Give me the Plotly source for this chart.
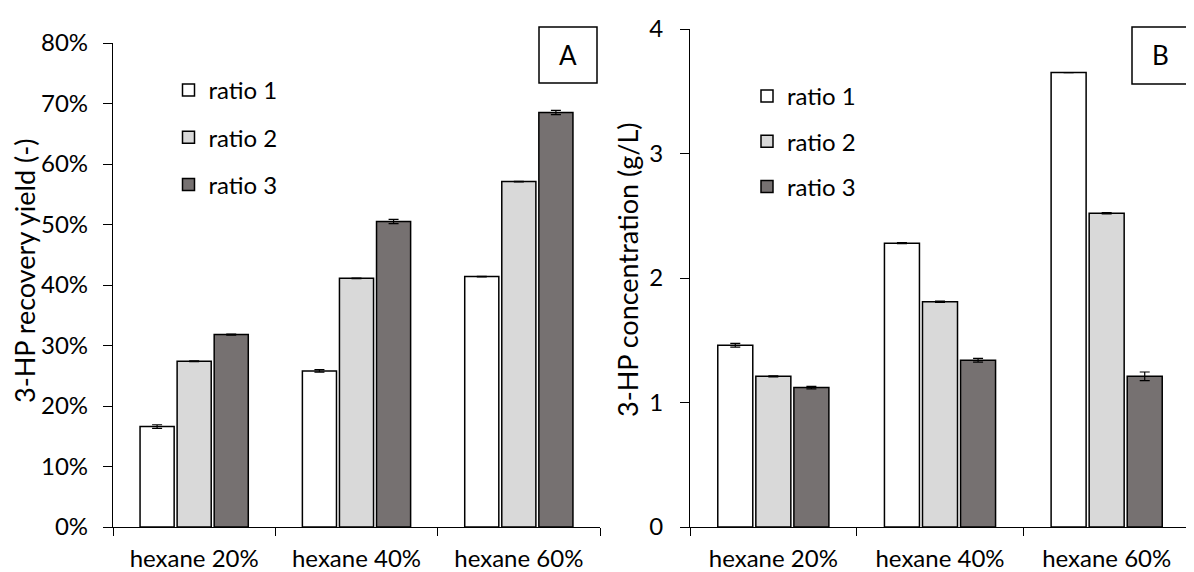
import plotly.graph_objects as go

categories = ["hexane 20%", "hexane 40%", "hexane 60%"]
series_names = ["ratio 1", "ratio 2", "ratio 3"]
series_colors = ["#FFFFFF", "#D9D9D9", "#767171"]

# Panel A: 3-HP recovery yield (%)
yield_r1 = [16.6, 25.8, 41.4]
yield_r2 = [27.4, 41.1, 57.1]
yield_r3 = [31.8, 50.5, 68.5]
yield_err_r1 = [0.3, 0.2, 0.05]
yield_err_r2 = [0.05, 0.05, 0.05]
yield_err_r3 = [0.1, 0.35, 0.35]

# Panel B: 3-HP concentration (g/L)
conc_r1 = [1.46, 2.28, 3.65]
conc_r2 = [1.21, 1.81, 2.52]
conc_r3 = [1.12, 1.34, 1.21]
conc_err_r1 = [0.015, 0.005, 0.0]
conc_err_r2 = [0.005, 0.005, 0.005]
conc_err_r3 = [0.01, 0.015, 0.035]

FONT = "Lato"
FS = 24
W, H = 1194, 572
OFF = 8  # page body margin

fig = go.Figure()

A_vals = [yield_r1, yield_r2, yield_r3]
A_errs = [yield_err_r1, yield_err_r2, yield_err_r3]
B_vals = [conc_r1, conc_r2, conc_r3]
B_errs = [conc_err_r1, conc_err_r2, conc_err_r3]

for i, name in enumerate(series_names):
    fig.add_trace(go.Bar(
        x=categories, y=A_vals[i], name=name,
        marker=dict(color=series_colors[i], line=dict(color="black", width=1.5)),
        error_y=dict(type="data", array=A_errs[i], color="black", thickness=1.2, width=5),
        xaxis="x", yaxis="y", legend="legend", legendgroup="a%d" % i,
    ))
for i, name in enumerate(series_names):
    fig.add_trace(go.Bar(
        x=categories, y=B_vals[i], name=name,
        marker=dict(color=series_colors[i], line=dict(color="black", width=1.5)),
        error_y=dict(type="data", array=B_errs[i], color="black", thickness=1.2, width=5),
        xaxis="x2", yaxis="y2", legend="legend2", legendgroup="b%d" % i,
    ))

def px_x(p):
    return (p - OFF) / W

def px_y(p):
    return 1 - (p - OFF) / H

xaxis_common = dict(
    type="category", showline=True, linecolor="black", linewidth=1.2,
    ticks="outside", tickson="boundaries", ticklen=8, tickcolor="black", tickwidth=1.2,
    showgrid=False, zeroline=False, tickfont=dict(family=FONT, size=FS, color="black"),
    ticklabelstandoff=10, fixedrange=True, automargin=False,
)
yaxis_common = dict(
    showline=True, linecolor="black", linewidth=1.2,
    ticks="outside", ticklen=9, tickcolor="black", tickwidth=1.2,
    showgrid=False, zeroline=False, tickfont=dict(family=FONT, size=FS, color="black"),
    fixedrange=True, automargin=False,
)

fig.update_layout(
    width=W, height=H,
    margin=dict(l=0, r=0, t=0, b=0, autoexpand=False),
    plot_bgcolor="white", paper_bgcolor="white",
    barmode="group", bargap=0.315, bargroupgap=0.08,
    font=dict(family=FONT, size=FS, color="black"),
    xaxis=dict(domain=[px_x(113), px_x(600)], anchor="y", **xaxis_common),
    yaxis=dict(domain=[px_y(527), px_y(43)], anchor="x", range=[0, 80], dtick=10,
               ticksuffix="%", ticklabelstandoff=10, **yaxis_common),
    xaxis2=dict(domain=[px_x(690), px_x(1190)], anchor="y2", **xaxis_common),
    yaxis2=dict(domain=[px_y(527), px_y(29)], anchor="x2", range=[0, 4], dtick=1,
                ticklabelstandoff=12, **yaxis_common),
    legend=dict(x=px_x(168.5), y=px_y(68), xanchor="left", yanchor="top",
                bgcolor="rgba(0,0,0,0)", tracegroupgap=13, itemwidth=30,
                font=dict(family=FONT, size=FS, color="black")),
    legend2=dict(x=px_x(747), y=px_y(74), xanchor="left", yanchor="top",
                 bgcolor="rgba(0,0,0,0)", tracegroupgap=11, itemwidth=30,
                 font=dict(family=FONT, size=FS, color="black")),
    showlegend=True,
)

# Panel labels A and B (boxed)
fig.add_shape(type="rect", xref="paper", yref="paper",
              x0=px_x(539), x1=px_x(597), y0=px_y(83), y1=px_y(27),
              line=dict(color="black", width=1.5), fillcolor="white", layer="below")
fig.add_annotation(text="A", xref="paper", yref="paper", x=px_x(568), y=px_y(55),
                   xanchor="center", yanchor="middle",
                   showarrow=False, font=dict(family=FONT, size=26, color="black"))
fig.add_shape(type="rect", xref="paper", yref="paper",
              x0=px_x(1132), x1=px_x(1189), y0=px_y(84), y1=px_y(27),
              line=dict(color="black", width=1.5), fillcolor="white", layer="below")
fig.add_annotation(text="B", xref="paper", yref="paper", x=px_x(1160.5), y=px_y(55),
                   xanchor="center", yanchor="middle",
                   showarrow=False, font=dict(family=FONT, size=26, color="black"))

# Axis titles
fig.add_annotation(text="3-HP recovery yield (-)", xref="paper", yref="paper",
                   x=px_x(24), y=px_y(271), textangle=-90, showarrow=False,
                   xanchor="center", yanchor="middle",
                   font=dict(family=FONT, size=27, color="black"))
fig.add_annotation(text="3-HP concentration (g/L)", xref="paper", yref="paper",
                   x=px_x(627), y=px_y(270), textangle=-90, showarrow=False,
                   xanchor="center", yanchor="middle",
                   font=dict(family=FONT, size=27, color="black"))

fig.write_html("out.html")
